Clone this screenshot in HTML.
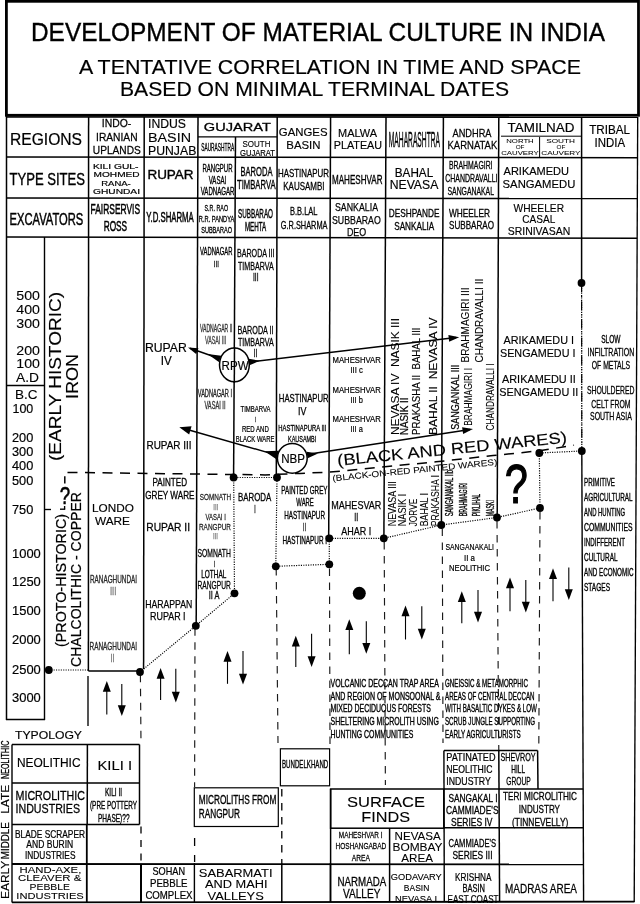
<!DOCTYPE html>
<html><head><meta charset="utf-8"><title>Development of Material Culture in India</title>
<style>
html,body{margin:0;padding:0;background:#fff;}
body{width:640px;height:904px;overflow:hidden;}
svg{display:block;font-family:"Liberation Sans",sans-serif;will-change:transform;opacity:0.9999;}
svg text{white-space:pre;}
</style></head><body>
<svg width="640" height="904" viewBox="0 0 640 904" xml:space="preserve">
<rect x="0" y="0" width="640" height="904" fill="#fff"/>
<rect x="6.4" y="1.3" width="632.1" height="114.0" fill="#fff" stroke="#000" stroke-width="2.8"/>
<text x="31.00" y="41.13" font-size="25.5" textLength="574.00" lengthAdjust="spacingAndGlyphs" fill="#000" stroke="#000" stroke-width="0.36">DEVELOPMENT OF MATERIAL CULTURE IN INDIA</text>
<text x="79.00" y="73.98" font-size="19.5" textLength="502.00" lengthAdjust="spacingAndGlyphs" fill="#000" stroke="#000" stroke-width="0.16">A TENTATIVE CORRELATION IN TIME AND SPACE</text>
<text x="120.00" y="96.28" font-size="19.5" textLength="389.00" lengthAdjust="spacingAndGlyphs" fill="#000" stroke="#000" stroke-width="0.16">BASED ON MINIMAL TERMINAL DATES</text>
<line x1="6" y1="116.9" x2="638" y2="117.3" stroke="#000" stroke-width="1.5" stroke-linecap="butt"/>
<line x1="6" y1="157" x2="637.5" y2="157.7" stroke="#000" stroke-width="1.5" stroke-linecap="butt"/>
<line x1="6" y1="198" x2="637.3" y2="198.6" stroke="#000" stroke-width="1.5" stroke-linecap="butt"/>
<line x1="6" y1="237" x2="637.2" y2="238.3" stroke="#000" stroke-width="1.5" stroke-linecap="butt"/>
<line x1="6.5" y1="116" x2="6.5" y2="720" stroke="#000" stroke-width="1.5" stroke-linecap="butt"/>
<line x1="88.6" y1="117" x2="88.4" y2="671" stroke="#000" stroke-width="1.5" stroke-linecap="butt"/>
<line x1="144.2" y1="117" x2="143.6" y2="669" stroke="#000" stroke-width="1.5" stroke-linecap="butt"/>
<line x1="198" y1="117" x2="196.2" y2="624" stroke="#000" stroke-width="1.5" stroke-linecap="butt"/>
<line x1="235.5" y1="137" x2="233.6" y2="476" stroke="#000" stroke-width="1.5" stroke-linecap="butt"/>
<line x1="277.2" y1="117" x2="276.3" y2="476" stroke="#000" stroke-width="1.5" stroke-linecap="butt"/>
<line x1="330.6" y1="117" x2="328.7" y2="537" stroke="#000" stroke-width="1.5" stroke-linecap="butt"/>
<line x1="386" y1="117" x2="383.9" y2="537" stroke="#000" stroke-width="1.5" stroke-linecap="butt"/>
<line x1="443.4" y1="117" x2="441.4" y2="524" stroke="#000" stroke-width="1.5" stroke-linecap="butt"/>
<line x1="498.8" y1="117" x2="497.2" y2="516" stroke="#000" stroke-width="1.5" stroke-linecap="butt"/>
<line x1="539.6" y1="137" x2="539.6" y2="157" stroke="#000" stroke-width="1.0" stroke-linecap="butt"/>
<line x1="581.6" y1="117" x2="581.6" y2="283" stroke="#000" stroke-width="1.5" stroke-linecap="butt"/>
<line x1="637.7" y1="117" x2="634.2" y2="902" stroke="#000" stroke-width="1.35" stroke-linecap="butt"/>
<line x1="198" y1="136.8" x2="277" y2="136.8" stroke="#000" stroke-width="1.35" stroke-linecap="butt"/>
<line x1="501" y1="136.2" x2="581" y2="136.2" stroke="#000" stroke-width="1.0" stroke-linecap="butt"/>
<text x="10.00" y="144.53" font-size="16" textLength="72.00" lengthAdjust="spacingAndGlyphs" fill="#000" stroke="#000" stroke-width="0.22">REGIONS</text>
<text x="9.50" y="185.12" font-size="15.7" textLength="75.50" lengthAdjust="spacingAndGlyphs" fill="#000" stroke="#000" stroke-width="0.35">TYPE SITES</text>
<text x="9.50" y="224.53" font-size="16" textLength="73.80" lengthAdjust="spacingAndGlyphs" fill="#000" stroke="#000" stroke-width="0.45">EXCAVATORS</text>
<text x="101.75" y="127.22" font-size="11.8" textLength="29.50" lengthAdjust="spacingAndGlyphs" fill="#000" stroke="#000" stroke-width="0.26">INDO-</text>
<text x="96.05" y="141.02" font-size="11.8" textLength="41.50" lengthAdjust="spacingAndGlyphs" fill="#000" stroke="#000" stroke-width="0.26">IRANIAN</text>
<text x="92.80" y="154.22" font-size="11.8" textLength="48.00" lengthAdjust="spacingAndGlyphs" fill="#000" stroke="#000" stroke-width="0.26">UPLANDS</text>
<text x="92.95" y="169.03" font-size="7.9" textLength="45.50" lengthAdjust="spacingAndGlyphs" fill="#000" stroke="#000" stroke-width="0.19">KILI GUL-</text>
<text x="93.60" y="177.43" font-size="7.9" textLength="46.00" lengthAdjust="spacingAndGlyphs" fill="#000" stroke="#000" stroke-width="0.19">MOHMED</text>
<text x="101.25" y="185.83" font-size="7.9" textLength="29.50" lengthAdjust="spacingAndGlyphs" fill="#000" stroke="#000" stroke-width="0.19">RANA-</text>
<text x="93.00" y="194.43" font-size="7.9" textLength="47.00" lengthAdjust="spacingAndGlyphs" fill="#000" stroke="#000" stroke-width="0.19">GHUNDAI</text>
<text x="90.55" y="214.35" font-size="15.5" textLength="49.50" lengthAdjust="spacingAndGlyphs" fill="#000" stroke="#000" stroke-width="0.53">FAIRSERVIS</text>
<text x="103.65" y="230.55" font-size="15.5" textLength="23.50" lengthAdjust="spacingAndGlyphs" fill="#000" stroke="#000" stroke-width="0.53">ROSS</text>
<text x="148.00" y="128.20" font-size="12.3" textLength="38.00" lengthAdjust="spacingAndGlyphs" fill="#000" stroke="#000" stroke-width="0.17">INDUS</text>
<text x="148.00" y="141.90" font-size="12.3" textLength="43.00" lengthAdjust="spacingAndGlyphs" fill="#000" stroke="#000" stroke-width="0.10">BASIN</text>
<text x="148.00" y="154.90" font-size="12.3" textLength="48.30" lengthAdjust="spacingAndGlyphs" fill="#000" stroke="#000" stroke-width="0.17">PUNJAB</text>
<text x="147.40" y="179.15" font-size="13" textLength="46.20" lengthAdjust="spacingAndGlyphs" fill="#000" stroke="#000" stroke-width="0.36">RUPAR</text>
<text x="146.30" y="221.81" font-size="14" textLength="47.50" lengthAdjust="spacingAndGlyphs" fill="#000" stroke="#000" stroke-width="0.48">Y.D.SHARMA</text>
<text x="203.80" y="131.15" font-size="11.6" textLength="67.00" lengthAdjust="spacingAndGlyphs" fill="#000" stroke="#000" stroke-width="0.28">GUJARAT</text>
<text x="201.20" y="151.44" font-size="11" textLength="33.00" lengthAdjust="spacingAndGlyphs" fill="#000" stroke="#000" stroke-width="0.37">SAURASHTRA</text>
<text x="242.50" y="146.88" font-size="8.6" textLength="28.00" lengthAdjust="spacingAndGlyphs" fill="#000" stroke="#000" stroke-width="0.12">SOUTH</text>
<text x="240.00" y="155.68" font-size="8.6" textLength="35.00" lengthAdjust="spacingAndGlyphs" fill="#000" stroke="#000" stroke-width="0.19">GUJARAT</text>
<text x="202.50" y="171.76" font-size="10.5" textLength="30.00" lengthAdjust="spacingAndGlyphs" fill="#000" stroke="#000" stroke-width="0.36">RANGPUR</text>
<text x="208.75" y="183.76" font-size="10.5" textLength="17.50" lengthAdjust="spacingAndGlyphs" fill="#000" stroke="#000" stroke-width="0.36">VASAI</text>
<text x="200.70" y="195.06" font-size="10.5" textLength="33.80" lengthAdjust="spacingAndGlyphs" fill="#000" stroke="#000" stroke-width="0.36">VADNAGAR</text>
<text x="240.50" y="175.60" font-size="12" textLength="32.00" lengthAdjust="spacingAndGlyphs" fill="#000" stroke="#000" stroke-width="0.34">BARODA</text>
<text x="237.05" y="188.80" font-size="12" textLength="38.50" lengthAdjust="spacingAndGlyphs" fill="#000" stroke="#000" stroke-width="0.34">TIMBARVA</text>
<text x="204.55" y="211.01" font-size="9.8" textLength="23.50" lengthAdjust="spacingAndGlyphs" fill="#000" stroke="#000" stroke-width="0.33">S.R. RAO</text>
<text x="198.85" y="221.51" font-size="9.8" textLength="35.50" lengthAdjust="spacingAndGlyphs" fill="#000" stroke="#000" stroke-width="0.33">R.R. PANDYA</text>
<text x="201.20" y="232.81" font-size="9.8" textLength="30.80" lengthAdjust="spacingAndGlyphs" fill="#000" stroke="#000" stroke-width="0.33">SUBBARAO</text>
<text x="238.00" y="217.65" font-size="13" textLength="35.00" lengthAdjust="spacingAndGlyphs" fill="#000" stroke="#000" stroke-width="0.44">SUBBARAO</text>
<text x="244.95" y="231.45" font-size="13" textLength="21.30" lengthAdjust="spacingAndGlyphs" fill="#000" stroke="#000" stroke-width="0.44">MEHTA</text>
<text x="278.80" y="136.15" font-size="11.6" textLength="48.70" lengthAdjust="spacingAndGlyphs" fill="#000" stroke="#000" stroke-width="0.16">GANGES</text>
<text x="286.30" y="148.65" font-size="11.6" textLength="34.20" lengthAdjust="spacingAndGlyphs" fill="#000" stroke="#000" stroke-width="0.16">BASIN</text>
<text x="278.00" y="177.15" font-size="11.6" textLength="51.00" lengthAdjust="spacingAndGlyphs" fill="#000" stroke="#000" stroke-width="0.32">HASTINAPUR</text>
<text x="283.30" y="189.95" font-size="11.6" textLength="41.20" lengthAdjust="spacingAndGlyphs" fill="#000" stroke="#000" stroke-width="0.32">KAUSAMBI</text>
<text x="290.00" y="215.38" font-size="11.4" textLength="27.50" lengthAdjust="spacingAndGlyphs" fill="#000" stroke="#000" stroke-width="0.32">B.B.LAL</text>
<text x="280.80" y="228.58" font-size="11.4" textLength="46.70" lengthAdjust="spacingAndGlyphs" fill="#000" stroke="#000" stroke-width="0.32">G.R.SHARMA</text>
<text x="338.00" y="136.58" font-size="11.4" textLength="39.00" lengthAdjust="spacingAndGlyphs" fill="#000" stroke="#000" stroke-width="0.16">MALWA</text>
<text x="333.75" y="149.08" font-size="11.4" textLength="48.30" lengthAdjust="spacingAndGlyphs" fill="#000" stroke="#000" stroke-width="0.16">PLATEAU</text>
<text x="388.80" y="146.86" font-size="22.5" textLength="51.20" lengthAdjust="spacingAndGlyphs" fill="#000" stroke="#000" stroke-width="0.42">MAHARASHTRA</text>
<text x="332.00" y="184.30" font-size="12" textLength="50.50" lengthAdjust="spacingAndGlyphs" fill="#000" stroke="#000" stroke-width="0.34">MAHESHVAR</text>
<text x="335.00" y="210.92" font-size="11.5" textLength="43.00" lengthAdjust="spacingAndGlyphs" fill="#000" stroke="#000" stroke-width="0.25">SANKALIA</text>
<text x="332.00" y="223.62" font-size="11.5" textLength="48.80" lengthAdjust="spacingAndGlyphs" fill="#000" stroke="#000" stroke-width="0.25">SUBBARAO</text>
<text x="346.95" y="236.12" font-size="11.5" textLength="19.30" lengthAdjust="spacingAndGlyphs" fill="#000" stroke="#000" stroke-width="0.25">DEO</text>
<text x="394.80" y="176.80" font-size="12" textLength="38.40" lengthAdjust="spacingAndGlyphs" fill="#000" stroke="#000" stroke-width="0.17">BAHAL</text>
<text x="389.70" y="189.30" font-size="12" textLength="48.60" lengthAdjust="spacingAndGlyphs" fill="#000" stroke="#000" stroke-width="0.17">NEVASA</text>
<text x="388.70" y="217.42" font-size="11.5" textLength="50.80" lengthAdjust="spacingAndGlyphs" fill="#000" stroke="#000" stroke-width="0.32">DESHPANDE</text>
<text x="394.20" y="229.92" font-size="11.5" textLength="40.00" lengthAdjust="spacingAndGlyphs" fill="#000" stroke="#000" stroke-width="0.32">SANKALIA</text>
<text x="452.50" y="136.65" font-size="11.6" textLength="39.00" lengthAdjust="spacingAndGlyphs" fill="#000" stroke="#000" stroke-width="0.26">ANDHRA</text>
<text x="447.50" y="149.15" font-size="11.6" textLength="49.80" lengthAdjust="spacingAndGlyphs" fill="#000" stroke="#000" stroke-width="0.26">KARNATAK</text>
<text x="449.00" y="168.79" font-size="10.6" textLength="43.50" lengthAdjust="spacingAndGlyphs" fill="#000" stroke="#000" stroke-width="0.30">BRAHMAGIRI</text>
<text x="445.30" y="181.59" font-size="10.6" textLength="52.20" lengthAdjust="spacingAndGlyphs" fill="#000" stroke="#000" stroke-width="0.30">CHANDRAVALLI</text>
<text x="447.50" y="194.79" font-size="10.6" textLength="46.50" lengthAdjust="spacingAndGlyphs" fill="#000" stroke="#000" stroke-width="0.30">SANGANAKAL</text>
<text x="449.00" y="216.58" font-size="11.4" textLength="41.00" lengthAdjust="spacingAndGlyphs" fill="#000" stroke="#000" stroke-width="0.32">WHEELER</text>
<text x="449.00" y="229.08" font-size="11.4" textLength="45.00" lengthAdjust="spacingAndGlyphs" fill="#000" stroke="#000" stroke-width="0.32">SUBBARAO</text>
<text x="507.50" y="131.58" font-size="12.8" textLength="67.00" lengthAdjust="spacingAndGlyphs" fill="#000" stroke="#000" stroke-width="0.18">TAMILNAD</text>
<text x="506.25" y="143.20" font-size="5.6" textLength="27.50" lengthAdjust="spacingAndGlyphs" fill="#000" stroke="#000" stroke-width="0.04">NORTH</text>
<text x="515.70" y="149.10" font-size="5.6" textLength="8.80" lengthAdjust="spacingAndGlyphs" fill="#000" stroke="#000" stroke-width="0.04">OF</text>
<text x="501.25" y="155.00" font-size="5.6" textLength="37.50" lengthAdjust="spacingAndGlyphs" fill="#000" stroke="#000" stroke-width="0.04">CAUVERY</text>
<text x="546.20" y="143.20" font-size="5.6" textLength="28.80" lengthAdjust="spacingAndGlyphs" fill="#000" stroke="#000" stroke-width="0.04">SOUTH</text>
<text x="556.60" y="149.10" font-size="5.6" textLength="8.80" lengthAdjust="spacingAndGlyphs" fill="#000" stroke="#000" stroke-width="0.04">OF</text>
<text x="541.25" y="155.00" font-size="5.6" textLength="39.30" lengthAdjust="spacingAndGlyphs" fill="#000" stroke="#000" stroke-width="0.04">CAUVERY</text>
<text x="589.20" y="133.97" font-size="12.2" textLength="40.80" lengthAdjust="spacingAndGlyphs" fill="#000" stroke="#000" stroke-width="0.17">TRIBAL</text>
<text x="594.55" y="146.57" font-size="12.2" textLength="30.50" lengthAdjust="spacingAndGlyphs" fill="#000" stroke="#000" stroke-width="0.17">INDIA</text>
<text x="503.60" y="175.02" font-size="11.8" textLength="65.40" lengthAdjust="spacingAndGlyphs" fill="#000" stroke="#000" stroke-width="0.17">ARIKAMEDU</text>
<text x="502.60" y="187.52" font-size="11.8" textLength="72.70" lengthAdjust="spacingAndGlyphs" fill="#000" stroke="#000" stroke-width="0.17">SANGAMEDU</text>
<text x="513.55" y="211.87" font-size="10.8" textLength="50.50" lengthAdjust="spacingAndGlyphs" fill="#000" stroke="#000" stroke-width="0.15">WHEELER</text>
<text x="522.30" y="223.47" font-size="10.8" textLength="33.00" lengthAdjust="spacingAndGlyphs" fill="#000" stroke="#000" stroke-width="0.15">CASAL</text>
<text x="507.75" y="234.87" font-size="10.8" textLength="62.50" lengthAdjust="spacingAndGlyphs" fill="#000" stroke="#000" stroke-width="0.15">SRINIVASAN</text>
<line x1="44.5" y1="237" x2="44.5" y2="720" stroke="#000" stroke-width="1.4" stroke-linecap="butt"/>
<line x1="6" y1="719.6" x2="45" y2="719.6" stroke="#000" stroke-width="1.5" stroke-linecap="butt"/>
<line x1="6" y1="385.5" x2="44.5" y2="385.5" stroke="#000" stroke-width="1.35" stroke-linecap="butt"/>
<line x1="45" y1="509.5" x2="51" y2="509.5" stroke="#000" stroke-width="1.35" stroke-linecap="butt"/>
<text x="16.30" y="300.37" font-size="12.2" textLength="23.70" lengthAdjust="spacingAndGlyphs" fill="#000" stroke="#000" stroke-width="0.10">500</text>
<text x="16.30" y="314.37" font-size="12.2" textLength="23.70" lengthAdjust="spacingAndGlyphs" fill="#000" stroke="#000" stroke-width="0.10">400</text>
<text x="16.30" y="328.17" font-size="12.2" textLength="23.70" lengthAdjust="spacingAndGlyphs" fill="#000" stroke="#000" stroke-width="0.10">300</text>
<text x="16.30" y="355.17" font-size="12.2" textLength="23.70" lengthAdjust="spacingAndGlyphs" fill="#000" stroke="#000" stroke-width="0.10">200</text>
<text x="16.30" y="368.37" font-size="12.2" textLength="23.70" lengthAdjust="spacingAndGlyphs" fill="#000" stroke="#000" stroke-width="0.10">100</text>
<text x="16.00" y="381.97" font-size="12.2" textLength="23.00" lengthAdjust="spacingAndGlyphs" fill="#000" stroke="#000" stroke-width="0.10">A.D</text>
<text x="15.00" y="399.37" font-size="12.2" textLength="22.50" lengthAdjust="spacingAndGlyphs" fill="#000" stroke="#000" stroke-width="0.10">B.C</text>
<text x="12.50" y="413.37" font-size="12.2" textLength="20.80" lengthAdjust="spacingAndGlyphs" fill="#000" stroke="#000" stroke-width="0.17">100</text>
<text x="12.00" y="441.87" font-size="12.2" textLength="21.30" lengthAdjust="spacingAndGlyphs" fill="#000" stroke="#000" stroke-width="0.17">200</text>
<text x="12.00" y="456.37" font-size="12.2" textLength="21.30" lengthAdjust="spacingAndGlyphs" fill="#000" stroke="#000" stroke-width="0.17">300</text>
<text x="12.00" y="470.37" font-size="12.2" textLength="21.30" lengthAdjust="spacingAndGlyphs" fill="#000" stroke="#000" stroke-width="0.17">400</text>
<text x="12.00" y="485.37" font-size="12.2" textLength="21.30" lengthAdjust="spacingAndGlyphs" fill="#000" stroke="#000" stroke-width="0.17">500</text>
<text x="12.00" y="513.87" font-size="12.2" textLength="21.30" lengthAdjust="spacingAndGlyphs" fill="#000" stroke="#000" stroke-width="0.17">750</text>
<text x="12.00" y="558.17" font-size="12.2" textLength="28.80" lengthAdjust="spacingAndGlyphs" fill="#000" stroke="#000" stroke-width="0.17">1000</text>
<text x="12.00" y="586.37" font-size="12.2" textLength="28.80" lengthAdjust="spacingAndGlyphs" fill="#000" stroke="#000" stroke-width="0.17">1250</text>
<text x="12.00" y="615.37" font-size="12.2" textLength="28.80" lengthAdjust="spacingAndGlyphs" fill="#000" stroke="#000" stroke-width="0.17">1500</text>
<text x="12.00" y="644.37" font-size="12.2" textLength="28.80" lengthAdjust="spacingAndGlyphs" fill="#000" stroke="#000" stroke-width="0.17">2000</text>
<text x="12.00" y="673.67" font-size="12.2" textLength="28.80" lengthAdjust="spacingAndGlyphs" fill="#000" stroke="#000" stroke-width="0.17">2500</text>
<text x="12.00" y="701.87" font-size="12.2" textLength="28.80" lengthAdjust="spacingAndGlyphs" fill="#000" stroke="#000" stroke-width="0.17">3000</text>
<text transform="translate(61.17,461.00) rotate(-90)" x="0" y="0" font-size="16.4" textLength="169.00" lengthAdjust="spacingAndGlyphs" fill="#000" stroke="#000" stroke-width="0.13">(EARLY HISTORIC)</text>
<text transform="translate(78.34,399.00) rotate(-90)" x="0" y="0" font-size="16.6" textLength="45.00" lengthAdjust="spacingAndGlyphs" fill="#000" stroke="#000" stroke-width="0.13">IRON</text>
<text transform="translate(65.61,647.00) rotate(-90)" x="0" y="0" font-size="14" textLength="133.00" lengthAdjust="spacingAndGlyphs" fill="#000" stroke="#000" stroke-width="0.20">(PROTO-HISTORIC)</text>
<text transform="translate(81.31,667.00) rotate(-90)" x="0" y="0" font-size="14" textLength="175.00" lengthAdjust="spacingAndGlyphs" fill="#000" stroke="#000" stroke-width="0.20">CHALCOLITHIC - COPPER</text>
<line x1="64.8" y1="476.2" x2="64.8" y2="483.6" stroke="#000" stroke-width="1.5" stroke-linecap="butt"/>
<text x="59.70" y="504.38" font-size="23.4" textLength="10.40" lengthAdjust="spacingAndGlyphs" fill="#000" stroke="#000" stroke-width="0.51">?</text>
<line x1="64.6" y1="506" x2="64.6" y2="509.3" stroke="#000" stroke-width="1.35" stroke-linecap="butt"/>
<line x1="60" y1="509.2" x2="65.2" y2="509.2" stroke="#000" stroke-width="1.35" stroke-linecap="butt"/>
<path d="M67.5,472.4 L265,474.9 L300,473.4 L330,472.1 L436,461.8 L493,455.6 L541,450.6 L574,445.2" fill="none" stroke="#000" stroke-width="1.5" stroke-dasharray="10 7.5"/>
<line x1="88.4" y1="671" x2="140" y2="671" stroke="#000" stroke-width="1.4" stroke-linecap="butt"/>
<text x="92.00" y="511.94" font-size="11" textLength="41.80" lengthAdjust="spacingAndGlyphs" fill="#000" stroke="#000" stroke-width="0.15">LONDO</text>
<text x="95.00" y="524.74" font-size="11" textLength="35.00" lengthAdjust="spacingAndGlyphs" fill="#000" stroke="#000" stroke-width="0.15">WARE</text>
<text x="90.00" y="583.44" font-size="11" textLength="47.00" lengthAdjust="spacingAndGlyphs" fill="#2a2a2a" stroke="#2a2a2a" stroke-width="0.37">RANAGHUNDAI</text>
<text x="109.95" y="595.06" font-size="10.5" textLength="6.50" lengthAdjust="spacingAndGlyphs" fill="#777" stroke="#777" stroke-width="0.29">III</text>
<text x="89.50" y="650.24" font-size="11" textLength="47.50" lengthAdjust="spacingAndGlyphs" fill="#2a2a2a" stroke="#2a2a2a" stroke-width="0.37">RANAGHUNDAI</text>
<text x="110.40" y="662.06" font-size="10.5" textLength="4.20" lengthAdjust="spacingAndGlyphs" fill="#777" stroke="#777" stroke-width="0.29">II</text>
<text x="145.00" y="351.81" font-size="12.6" textLength="41.80" lengthAdjust="spacingAndGlyphs" fill="#000" stroke="#000" stroke-width="0.18">RUPAR</text>
<text x="160.70" y="364.51" font-size="12.6" textLength="11.00" lengthAdjust="spacingAndGlyphs" fill="#000" stroke="#000" stroke-width="0.18">IV</text>
<text x="146.50" y="449.08" font-size="11.4" textLength="45.00" lengthAdjust="spacingAndGlyphs" fill="#000" stroke="#000" stroke-width="0.25">RUPAR III</text>
<text x="152.55" y="486.08" font-size="11.4" textLength="34.50" lengthAdjust="spacingAndGlyphs" fill="#000" stroke="#000" stroke-width="0.32">PAINTED</text>
<text x="145.20" y="498.58" font-size="11.4" textLength="49.30" lengthAdjust="spacingAndGlyphs" fill="#000" stroke="#000" stroke-width="0.32">GREY WARE</text>
<text x="146.30" y="531.15" font-size="11.6" textLength="43.70" lengthAdjust="spacingAndGlyphs" fill="#000" stroke="#000" stroke-width="0.26">RUPAR II</text>
<text x="145.20" y="608.48" font-size="11.4" textLength="47.10" lengthAdjust="spacingAndGlyphs" fill="#000" stroke="#000" stroke-width="0.25">HARAPPAN</text>
<text x="150.00" y="620.28" font-size="11.4" textLength="35.60" lengthAdjust="spacingAndGlyphs" fill="#000" stroke="#000" stroke-width="0.25">RUPAR I</text>
<text x="200.00" y="254.96" font-size="10.5" textLength="32.50" lengthAdjust="spacingAndGlyphs" fill="#000" stroke="#000" stroke-width="0.36">VADNAGAR</text>
<text x="213.80" y="267.00" font-size="9.5" textLength="5.00" lengthAdjust="spacingAndGlyphs" fill="#000" stroke="#000" stroke-width="0.27">III</text>
<text x="200.00" y="331.88" font-size="10" textLength="32.50" lengthAdjust="spacingAndGlyphs" fill="#333" stroke="#333" stroke-width="0.34">VADNAGAR II</text>
<text x="205.00" y="344.38" font-size="10" textLength="21.30" lengthAdjust="spacingAndGlyphs" fill="#444" stroke="#444" stroke-width="0.34">VASAI III</text>
<text x="197.80" y="396.58" font-size="10" textLength="34.20" lengthAdjust="spacingAndGlyphs" fill="#222" stroke="#222" stroke-width="0.34">VADNAGAR I</text>
<text x="204.50" y="408.58" font-size="10" textLength="21.00" lengthAdjust="spacingAndGlyphs" fill="#333" stroke="#333" stroke-width="0.34">VASAI II</text>
<text x="199.80" y="500.37" font-size="9.4" textLength="31.20" lengthAdjust="spacingAndGlyphs" fill="#222" stroke="#222" stroke-width="0.26">SOMNATH</text>
<text x="213.30" y="509.82" font-size="9" textLength="5.00" lengthAdjust="spacingAndGlyphs" fill="#777" stroke="#777" stroke-width="0.25">III</text>
<text x="205.50" y="519.67" font-size="9.4" textLength="20.30" lengthAdjust="spacingAndGlyphs" fill="#222" stroke="#222" stroke-width="0.26">VASAI I</text>
<text x="199.00" y="529.57" font-size="9.4" textLength="32.00" lengthAdjust="spacingAndGlyphs" fill="#222" stroke="#222" stroke-width="0.26">RANGPUR</text>
<text x="213.00" y="538.82" font-size="9" textLength="5.00" lengthAdjust="spacingAndGlyphs" fill="#777" stroke="#777" stroke-width="0.25">III</text>
<text x="197.50" y="557.06" font-size="10.5" textLength="33.30" lengthAdjust="spacingAndGlyphs" fill="#000" stroke="#000" stroke-width="0.29">SOMNATH</text>
<text x="213.85" y="567.20" font-size="9.5" textLength="1.30" lengthAdjust="spacingAndGlyphs" fill="#000" stroke="#000" stroke-width="0.32">I</text>
<text x="201.30" y="578.26" font-size="10.5" textLength="25.00" lengthAdjust="spacingAndGlyphs" fill="#000" stroke="#000" stroke-width="0.36">LOTHAL</text>
<text x="197.50" y="589.26" font-size="10.5" textLength="33.30" lengthAdjust="spacingAndGlyphs" fill="#000" stroke="#000" stroke-width="0.29">RANGPUR</text>
<text x="208.80" y="599.38" font-size="10" textLength="10.70" lengthAdjust="spacingAndGlyphs" fill="#000" stroke="#000" stroke-width="0.28">II A</text>
<text x="237.00" y="256.87" font-size="10.8" textLength="37.50" lengthAdjust="spacingAndGlyphs" fill="#000" stroke="#000" stroke-width="0.30">BARODA III</text>
<text x="238.00" y="269.67" font-size="10.8" textLength="35.80" lengthAdjust="spacingAndGlyphs" fill="#000" stroke="#000" stroke-width="0.30">TIMBARVA</text>
<text x="253.00" y="281.08" font-size="10" textLength="5.60" lengthAdjust="spacingAndGlyphs" fill="#000" stroke="#000" stroke-width="0.28">III</text>
<text x="237.50" y="333.87" font-size="10.8" textLength="36.00" lengthAdjust="spacingAndGlyphs" fill="#000" stroke="#000" stroke-width="0.30">BARODA II</text>
<text x="238.00" y="345.87" font-size="10.8" textLength="35.80" lengthAdjust="spacingAndGlyphs" fill="#000" stroke="#000" stroke-width="0.30">TIMBARVA</text>
<text x="253.70" y="357.38" font-size="10" textLength="3.60" lengthAdjust="spacingAndGlyphs" fill="#000" stroke="#000" stroke-width="0.28">II</text>
<text x="240.50" y="411.77" font-size="8.3" textLength="30.00" lengthAdjust="spacingAndGlyphs" fill="#000" stroke="#000" stroke-width="0.23">TIMBARVA</text>
<text x="254.70" y="421.66" font-size="8" textLength="1.20" lengthAdjust="spacingAndGlyphs" fill="#000" stroke="#000" stroke-width="0.27">I</text>
<text x="242.00" y="432.27" font-size="8.3" textLength="26.80" lengthAdjust="spacingAndGlyphs" fill="#000" stroke="#000" stroke-width="0.23">RED AND</text>
<text x="235.80" y="442.47" font-size="8.3" textLength="38.70" lengthAdjust="spacingAndGlyphs" fill="#000" stroke="#000" stroke-width="0.23">BLACK WARE</text>
<text x="238.00" y="501.12" font-size="11.5" textLength="33.30" lengthAdjust="spacingAndGlyphs" fill="#000" stroke="#000" stroke-width="0.32">BARODA</text>
<text x="254.30" y="512.56" font-size="10.5" textLength="1.40" lengthAdjust="spacingAndGlyphs" fill="#000" stroke="#000" stroke-width="0.36">I</text>
<text x="278.80" y="402.12" font-size="11.5" textLength="49.80" lengthAdjust="spacingAndGlyphs" fill="#000" stroke="#000" stroke-width="0.32">HASTINAPUR</text>
<text x="298.00" y="414.51" font-size="11.2" textLength="8.40" lengthAdjust="spacingAndGlyphs" fill="#000" stroke="#000" stroke-width="0.25">IV</text>
<text x="278.30" y="431.01" font-size="9.8" textLength="48.00" lengthAdjust="spacingAndGlyphs" fill="#000" stroke="#000" stroke-width="0.33">HASTINAPURA III</text>
<text x="288.00" y="442.31" font-size="9.8" textLength="28.30" lengthAdjust="spacingAndGlyphs" fill="#000" stroke="#000" stroke-width="0.33">KAUSAMBI</text>
<text x="281.30" y="493.94" font-size="11" textLength="46.20" lengthAdjust="spacingAndGlyphs" fill="#000" stroke="#000" stroke-width="0.37">PAINTED GREY</text>
<text x="296.30" y="506.44" font-size="11" textLength="17.50" lengthAdjust="spacingAndGlyphs" fill="#000" stroke="#000" stroke-width="0.37">WARE</text>
<text x="284.30" y="518.94" font-size="11" textLength="40.70" lengthAdjust="spacingAndGlyphs" fill="#000" stroke="#000" stroke-width="0.37">HASTINAPUR</text>
<text x="302.70" y="530.98" font-size="10" textLength="3.60" lengthAdjust="spacingAndGlyphs" fill="#333" stroke="#333" stroke-width="0.28">II</text>
<text x="282.50" y="543.79" font-size="10.6" textLength="44.50" lengthAdjust="spacingAndGlyphs" fill="#000" stroke="#000" stroke-width="0.36">HASTINAPUR I</text>
<text x="332.50" y="363.48" font-size="8.6" textLength="48.30" lengthAdjust="spacingAndGlyphs" fill="#000" stroke="#000" stroke-width="0.19">MAHESHVAR</text>
<text x="350.40" y="373.08" font-size="8.6" textLength="12.40" lengthAdjust="spacingAndGlyphs" fill="#000" stroke="#000" stroke-width="0.19">III c</text>
<text x="332.50" y="393.48" font-size="8.6" textLength="48.30" lengthAdjust="spacingAndGlyphs" fill="#000" stroke="#000" stroke-width="0.19">MAHESHVAR</text>
<text x="350.40" y="403.08" font-size="8.6" textLength="12.40" lengthAdjust="spacingAndGlyphs" fill="#000" stroke="#000" stroke-width="0.19">III b</text>
<text x="332.50" y="422.28" font-size="8.6" textLength="48.30" lengthAdjust="spacingAndGlyphs" fill="#000" stroke="#000" stroke-width="0.19">MAHESHVAR</text>
<text x="350.40" y="431.88" font-size="8.6" textLength="12.40" lengthAdjust="spacingAndGlyphs" fill="#000" stroke="#000" stroke-width="0.19">III a</text>
<text x="331.30" y="508.51" font-size="11.2" textLength="50.00" lengthAdjust="spacingAndGlyphs" fill="#000" stroke="#000" stroke-width="0.25">MAHESVAR</text>
<text x="354.30" y="521.26" font-size="10.5" textLength="4.00" lengthAdjust="spacingAndGlyphs" fill="#000" stroke="#000" stroke-width="0.29">II</text>
<text x="341.30" y="534.51" font-size="11.2" textLength="30.00" lengthAdjust="spacingAndGlyphs" fill="#000" stroke="#000" stroke-width="0.25">AHAR I</text>
<text transform="translate(398.94,435.00) rotate(-90)" x="0" y="0" font-size="11" textLength="117.00" lengthAdjust="spacingAndGlyphs" fill="#000" stroke="#000" stroke-width="0.09">NEVASA IV  NASIK III</text>
<text transform="translate(408.14,435.00) rotate(-90)" x="0" y="0" font-size="11" textLength="37.50" lengthAdjust="spacingAndGlyphs" fill="#000" stroke="#000" stroke-width="0.24">NASIK II</text>
<text transform="translate(419.72,435.00) rotate(-90)" x="0" y="0" font-size="10.4" textLength="107.50" lengthAdjust="spacingAndGlyphs" fill="#000" stroke="#000" stroke-width="0.15">PRAKASHA II  BAHAL III</text>
<text transform="translate(436.81,435.00) rotate(-90)" x="0" y="0" font-size="11.2" textLength="117.50" lengthAdjust="spacingAndGlyphs" fill="#000" stroke="#000" stroke-width="0.16">BAHAL II  NEVASA IV</text>
<text transform="translate(395.72,526.30) rotate(-90)" x="0" y="0" font-size="10.4" textLength="45.00" lengthAdjust="spacingAndGlyphs" fill="#000" stroke="#000" stroke-width="0.09">NEVASA III</text>
<text transform="translate(406.32,526.30) rotate(-90)" x="0" y="0" font-size="10.4" textLength="32.50" lengthAdjust="spacingAndGlyphs" fill="#000" stroke="#000" stroke-width="0.09">NASIK I</text>
<text transform="translate(417.32,526.30) rotate(-90)" x="0" y="0" font-size="10.4" textLength="27.50" lengthAdjust="spacingAndGlyphs" fill="#000" stroke="#000" stroke-width="0.09">JORVE</text>
<text transform="translate(428.12,526.30) rotate(-90)" x="0" y="0" font-size="10.4" textLength="33.30" lengthAdjust="spacingAndGlyphs" fill="#000" stroke="#000" stroke-width="0.09">BAHAL I</text>
<text transform="translate(438.72,526.30) rotate(-90)" x="0" y="0" font-size="10.4" textLength="51.30" lengthAdjust="spacingAndGlyphs" fill="#000" stroke="#000" stroke-width="0.09">PRAKASHA I</text>
<text transform="translate(458.72,429.80) rotate(-90)" x="0" y="0" font-size="10.4" textLength="65.00" lengthAdjust="spacingAndGlyphs" fill="#000" stroke="#000" stroke-width="0.23">SANGANKAL III</text>
<text transform="translate(471.65,425.80) rotate(-90)" x="0" y="0" font-size="10.2" textLength="58.00" lengthAdjust="spacingAndGlyphs" fill="#000" stroke="#000" stroke-width="0.11">BRAHMAGIRI I</text>
<text transform="translate(469.07,362.50) rotate(-90)" x="0" y="0" font-size="10.8" textLength="75.00" lengthAdjust="spacingAndGlyphs" fill="#000" stroke="#000" stroke-width="0.08">BRAHMAGIRI III</text>
<text transform="translate(482.67,362.50) rotate(-90)" x="0" y="0" font-size="10.8" textLength="83.70" lengthAdjust="spacingAndGlyphs" fill="#000" stroke="#000" stroke-width="0.08">CHANDRAVALLI II</text>
<text transform="translate(493.79,430.40) rotate(-90)" x="0" y="0" font-size="10.6" textLength="67.00" lengthAdjust="spacingAndGlyphs" fill="#000" stroke="#000" stroke-width="0.12">CHANDRAVALLI I</text>
<text transform="translate(452.52,516.30) rotate(-90)" x="0" y="0" font-size="10.4" textLength="46.30" lengthAdjust="spacingAndGlyphs" fill="#000" stroke="#000" stroke-width="0.35">SANGANAKAL IIb</text>
<text transform="translate(467.25,516.30) rotate(-90)" x="0" y="0" font-size="10.2" textLength="33.80" lengthAdjust="spacingAndGlyphs" fill="#000" stroke="#000" stroke-width="0.35">BRAHMAGIRI</text>
<text transform="translate(480.45,516.30) rotate(-90)" x="0" y="0" font-size="10.2" textLength="22.50" lengthAdjust="spacingAndGlyphs" fill="#000" stroke="#000" stroke-width="0.35">PIKLIHAL</text>
<text transform="translate(493.65,516.30) rotate(-90)" x="0" y="0" font-size="10.2" textLength="16.30" lengthAdjust="spacingAndGlyphs" fill="#000" stroke="#000" stroke-width="0.35">MASKI</text>
<text x="445.40" y="550.19" font-size="8.9" textLength="48.60" lengthAdjust="spacingAndGlyphs" fill="#000" stroke="#000" stroke-width="0.20">SANGANAKALI</text>
<text x="464.00" y="561.19" font-size="8.9" textLength="11.00" lengthAdjust="spacingAndGlyphs" fill="#000" stroke="#000" stroke-width="0.20">II a</text>
<text x="449.00" y="570.79" font-size="8.9" textLength="41.00" lengthAdjust="spacingAndGlyphs" fill="#000" stroke="#000" stroke-width="0.20">NEOLITHIC</text>
<text x="503.50" y="344.44" font-size="11" textLength="70.50" lengthAdjust="spacingAndGlyphs" fill="#000" stroke="#000" stroke-width="0.15">ARIKAMEDU I</text>
<text x="500.00" y="356.94" font-size="11" textLength="75.40" lengthAdjust="spacingAndGlyphs" fill="#000" stroke="#000" stroke-width="0.15">SENGAMEDU I</text>
<text x="502.00" y="383.44" font-size="11" textLength="73.80" lengthAdjust="spacingAndGlyphs" fill="#000" stroke="#000" stroke-width="0.15">ARIKAMEDU II</text>
<text x="499.30" y="395.74" font-size="11" textLength="79.00" lengthAdjust="spacingAndGlyphs" fill="#000" stroke="#000" stroke-width="0.15">SENGAMEDU II</text>
<text x="504.80" y="502.89" font-size="55" textLength="23.00" lengthAdjust="spacingAndGlyphs" fill="#000" stroke="#000" stroke-width="1.21">?</text>
<text x="601.25" y="342.87" font-size="10.8" textLength="19.30" lengthAdjust="spacingAndGlyphs" fill="#000" stroke="#000" stroke-width="0.37">SLOW</text>
<text x="587.50" y="356.37" font-size="10.8" textLength="46.80" lengthAdjust="spacingAndGlyphs" fill="#000" stroke="#000" stroke-width="0.30">INFILTRATION</text>
<text x="591.80" y="368.87" font-size="10.8" textLength="38.20" lengthAdjust="spacingAndGlyphs" fill="#000" stroke="#000" stroke-width="0.30">OF METALS</text>
<text x="587.00" y="394.37" font-size="10.8" textLength="47.50" lengthAdjust="spacingAndGlyphs" fill="#000" stroke="#000" stroke-width="0.30">SHOULDERED</text>
<text x="591.30" y="407.67" font-size="10.8" textLength="39.20" lengthAdjust="spacingAndGlyphs" fill="#000" stroke="#000" stroke-width="0.30">CELT FROM</text>
<text x="590.00" y="419.87" font-size="10.8" textLength="41.80" lengthAdjust="spacingAndGlyphs" fill="#000" stroke="#000" stroke-width="0.30">SOUTH ASIA</text>
<text x="584.00" y="485.65" font-size="11.6" textLength="31.00" lengthAdjust="spacingAndGlyphs" fill="#000" stroke="#000" stroke-width="0.39">PRIMITIVE</text>
<text x="584.00" y="500.70" font-size="11.6" textLength="48.50" lengthAdjust="spacingAndGlyphs" fill="#000" stroke="#000" stroke-width="0.39">AGRICULTURAL</text>
<text x="584.00" y="515.75" font-size="11.6" textLength="41.00" lengthAdjust="spacingAndGlyphs" fill="#000" stroke="#000" stroke-width="0.39">AND HUNTING</text>
<text x="584.00" y="530.80" font-size="11.6" textLength="48.50" lengthAdjust="spacingAndGlyphs" fill="#000" stroke="#000" stroke-width="0.39">COMMUNITIES</text>
<text x="584.00" y="545.85" font-size="11.6" textLength="41.00" lengthAdjust="spacingAndGlyphs" fill="#000" stroke="#000" stroke-width="0.39">INDIFFERENT</text>
<text x="584.00" y="560.90" font-size="11.6" textLength="33.50" lengthAdjust="spacingAndGlyphs" fill="#000" stroke="#000" stroke-width="0.39">CULTURAL</text>
<text x="584.00" y="575.95" font-size="11.6" textLength="49.50" lengthAdjust="spacingAndGlyphs" fill="#000" stroke="#000" stroke-width="0.39">AND ECONOMIC</text>
<text x="584.00" y="591.00" font-size="11.6" textLength="26.00" lengthAdjust="spacingAndGlyphs" fill="#000" stroke="#000" stroke-width="0.39">STAGES</text>
<g transform="translate(337.3,460.2) rotate(-5.8)">
<text x="0.00" y="5.66" font-size="15.8" textLength="230.60" lengthAdjust="spacingAndGlyphs" fill="#000" stroke="#000" stroke-width="0.13">(BLACK AND RED WARES)</text>
</g>
<g transform="translate(332.5,478.2) rotate(-5.7)">
<text x="0.00" y="3.08" font-size="8.6" textLength="165.50" lengthAdjust="spacingAndGlyphs" fill="#000" stroke="#000" stroke-width="0.07">(BLACK-ON-RED PAINTED WARES)</text>
</g>
<line x1="220" y1="358.8" x2="190" y2="348.2" stroke="#000" stroke-width="1.5" stroke-linecap="butt"/>
<path d="M188.00,347.50 L198.48,348.16 L196.15,354.12 Z" fill="#000"/>
<path d="M207.50,354.00 L221.28,355.84 L218.87,361.99 Z" fill="#000"/>
<line x1="248.8" y1="362" x2="456" y2="337.6" stroke="#000" stroke-width="1.5" stroke-linecap="butt"/>
<path d="M459.20,337.20 L449.16,341.79 L448.38,335.03 Z" fill="#000"/>
<path d="M260.00,360.70 L249.44,365.15 L248.70,358.79 Z" fill="#000"/>
<ellipse cx="234.4" cy="364.8" rx="14.9" ry="16.9" fill="#fff" stroke="#000" stroke-width="1.5"/>
<line x1="234.5" y1="347" x2="234.3" y2="383" stroke="#000" stroke-width="1.5" stroke-linecap="butt"/>
<text x="221.60" y="369.67" font-size="12.2" textLength="27.00" lengthAdjust="spacingAndGlyphs" fill="#000" stroke="#000" stroke-width="0.17">RPW</text>
<line x1="277.5" y1="455.3" x2="182" y2="428" stroke="#000" stroke-width="1.4" stroke-linecap="butt"/>
<path d="M179.30,427.30 L191.54,426.32 L189.18,434.59 Z" fill="#000"/>
<path d="M264.60,451.30 L278.76,450.87 L276.40,459.14 Z" fill="#000"/>
<line x1="306.5" y1="454.4" x2="470" y2="429.4" stroke="#000" stroke-width="1.5" stroke-linecap="butt"/>
<path d="M473.00,429.00 L463.15,433.98 L462.10,427.27 Z" fill="#000"/>
<path d="M318.00,453.40 L307.64,458.36 L306.62,451.84 Z" fill="#000"/>
<circle cx="292.3" cy="458.3" r="14.9" fill="#fff" stroke="#000" stroke-width="1.5"/>
<text x="281.20" y="462.87" font-size="12.2" textLength="23.80" lengthAdjust="spacingAndGlyphs" fill="#000" stroke="#000" stroke-width="0.17">NBP</text>
<path d="M48.8,670 L88,670" fill="none" stroke="#000" stroke-width="1.2" stroke-dasharray="1.1 1.3"/>
<path d="M140,672 L195.8,625.8 L234.5,593.3 L233.7,477.5 L277,477.5 L275.8,566.3 L329.3,564.3 L329.3,538.3 L383.8,538.3 L441.3,525 L497,517.5 L540,508 L539.3,453 L581.8,451" fill="none" stroke="#000" stroke-width="1.2" stroke-dasharray="1.1 1.3"/>
<line x1="581.6" y1="283" x2="581.8" y2="451" stroke="#000" stroke-width="1.2" stroke-dasharray="9 4 1.2 4" stroke-linecap="butt"/>
<path d="M581.6,283 L581.8,451" fill="none" stroke="#000" stroke-width="1.2" stroke-dasharray="1.1 1.3"/>
<line x1="581.8" y1="451" x2="583.6" y2="902" stroke="#000" stroke-width="1.4" stroke-linecap="butt"/>
<line x1="88" y1="676" x2="88" y2="726" stroke="#000" stroke-width="1.35" stroke-linecap="butt"/>
<line x1="140.4" y1="674.8" x2="141" y2="744" stroke="#1a1a1a" stroke-width="1.15" stroke-dasharray="7.5 6.5" stroke-linecap="butt"/>
<line x1="141" y1="826.5" x2="141" y2="861" stroke="#000" stroke-width="1.3" stroke-dasharray="7 6.5" stroke-linecap="butt"/>
<line x1="195" y1="628.2" x2="194.6" y2="787" stroke="#1a1a1a" stroke-width="1.15" stroke-dasharray="7.5 6.5" stroke-linecap="butt"/>
<line x1="194.6" y1="838" x2="194.6" y2="862" stroke="#000" stroke-width="1.3" stroke-dasharray="8 9" stroke-linecap="butt"/>
<line x1="276.2" y1="567.9" x2="278" y2="743" stroke="#1a1a1a" stroke-width="1.15" stroke-dasharray="7.5 6.5" stroke-linecap="butt"/>
<line x1="281.8" y1="789" x2="281.8" y2="863" stroke="#000" stroke-width="1.3" stroke-dasharray="7.5 6.5" stroke-linecap="butt"/>
<line x1="329.5" y1="568.5" x2="330" y2="745" stroke="#1a1a1a" stroke-width="1.15" stroke-dasharray="7.5 6.5" stroke-linecap="butt"/>
<line x1="384.2" y1="542" x2="385.4" y2="785" stroke="#1a1a1a" stroke-width="1.15" stroke-dasharray="7.5 6.5" stroke-linecap="butt"/>
<line x1="442.3" y1="528.6" x2="443" y2="743" stroke="#1a1a1a" stroke-width="1.15" stroke-dasharray="7.5 6.5" stroke-linecap="butt"/>
<line x1="497" y1="521" x2="498.8" y2="750" stroke="#1a1a1a" stroke-width="1.15" stroke-dasharray="7.5 6.5" stroke-linecap="butt"/>
<line x1="540" y1="512" x2="538.8" y2="748" stroke="#1a1a1a" stroke-width="1.15" stroke-dasharray="7.5 6.5" stroke-linecap="butt"/>
<circle cx="48.8" cy="670" r="3.9" fill="#000"/>
<circle cx="140" cy="672" r="3.9" fill="#000"/>
<circle cx="195.8" cy="625.8" r="3.9" fill="#000"/>
<circle cx="234.5" cy="593.3" r="3.9" fill="#000"/>
<circle cx="233.6" cy="477.5" r="3.9" fill="#000"/>
<circle cx="277" cy="477.5" r="3.9" fill="#000"/>
<circle cx="275.8" cy="566.3" r="3.9" fill="#000"/>
<circle cx="329.3" cy="564.3" r="3.9" fill="#000"/>
<circle cx="329.3" cy="538.3" r="3.9" fill="#000"/>
<circle cx="383.8" cy="538.3" r="3.9" fill="#000"/>
<circle cx="441.3" cy="525" r="3.9" fill="#000"/>
<circle cx="497" cy="517.5" r="3.9" fill="#000"/>
<circle cx="540" cy="508" r="3.9" fill="#000"/>
<circle cx="539.3" cy="453" r="3.9" fill="#000"/>
<circle cx="581.8" cy="451" r="3.9" fill="#000"/>
<circle cx="581.5" cy="283" r="3.9" fill="#000"/>
<circle cx="359.3" cy="593.3" r="6.5" fill="#000"/>
<line x1="106.8" y1="687" x2="106.8" y2="714.5" stroke="#000" stroke-width="1.1" stroke-linecap="butt"/>
<path d="M106.8,681 L102.8,691.8 L110.8,691.8 Z" fill="#000"/>
<line x1="121.8" y1="684" x2="121.8" y2="710" stroke="#000" stroke-width="1.1" stroke-linecap="butt"/>
<path d="M121.8,716 L117.8,705.2 L125.8,705.2 Z" fill="#000"/>
<line x1="160.6" y1="674" x2="160.6" y2="700" stroke="#000" stroke-width="1.1" stroke-linecap="butt"/>
<path d="M160.6,668 L156.6,678.8 L164.6,678.8 Z" fill="#000"/>
<line x1="175.8" y1="668.8" x2="175.8" y2="696.5" stroke="#000" stroke-width="1.1" stroke-linecap="butt"/>
<path d="M175.8,702.5 L171.8,691.7 L179.8,691.7 Z" fill="#000"/>
<line x1="227.5" y1="657" x2="227.5" y2="683.8" stroke="#000" stroke-width="1.1" stroke-linecap="butt"/>
<path d="M227.5,651 L223.5,661.8 L231.5,661.8 Z" fill="#000"/>
<line x1="243" y1="651" x2="243" y2="678.5" stroke="#000" stroke-width="1.1" stroke-linecap="butt"/>
<path d="M243,684.5 L239,673.7 L247,673.7 Z" fill="#000"/>
<line x1="295.8" y1="641.8" x2="295.8" y2="667" stroke="#000" stroke-width="1.1" stroke-linecap="butt"/>
<path d="M295.8,635.8 L291.8,646.5999999999999 L299.8,646.5999999999999 Z" fill="#000"/>
<line x1="311.6" y1="633.8" x2="311.6" y2="661" stroke="#000" stroke-width="1.1" stroke-linecap="butt"/>
<path d="M311.6,667 L307.6,656.2 L315.6,656.2 Z" fill="#000"/>
<line x1="349.3" y1="625.3" x2="349.3" y2="654.3" stroke="#000" stroke-width="1.1" stroke-linecap="butt"/>
<path d="M349.3,619.3 L345.3,630.0999999999999 L353.3,630.0999999999999 Z" fill="#000"/>
<line x1="366.3" y1="621.3" x2="366.3" y2="647.8" stroke="#000" stroke-width="1.1" stroke-linecap="butt"/>
<path d="M366.3,653.8 L362.3,643.0 L370.3,643.0 Z" fill="#000"/>
<line x1="405.5" y1="611.5" x2="405.5" y2="639.5" stroke="#000" stroke-width="1.1" stroke-linecap="butt"/>
<path d="M405.5,605.5 L401.5,616.3 L409.5,616.3 Z" fill="#000"/>
<line x1="421.8" y1="606.3" x2="421.8" y2="633.5" stroke="#000" stroke-width="1.1" stroke-linecap="butt"/>
<path d="M421.8,639.5 L417.8,628.7 L425.8,628.7 Z" fill="#000"/>
<line x1="461.8" y1="597.3" x2="461.8" y2="623.3" stroke="#000" stroke-width="1.1" stroke-linecap="butt"/>
<path d="M461.8,591.3 L457.8,602.0999999999999 L465.8,602.0999999999999 Z" fill="#000"/>
<line x1="478" y1="590" x2="478" y2="616.5" stroke="#000" stroke-width="1.1" stroke-linecap="butt"/>
<path d="M478,622.5 L474,611.7 L482,611.7 Z" fill="#000"/>
<line x1="510" y1="583.5" x2="510" y2="611.3" stroke="#000" stroke-width="1.1" stroke-linecap="butt"/>
<path d="M510,577.5 L506,588.3 L514,588.3 Z" fill="#000"/>
<line x1="525.8" y1="580" x2="525.8" y2="606.5" stroke="#000" stroke-width="1.1" stroke-linecap="butt"/>
<path d="M525.8,612.5 L521.8,601.7 L529.8,601.7 Z" fill="#000"/>
<line x1="553" y1="574.3" x2="553" y2="601.3" stroke="#000" stroke-width="1.1" stroke-linecap="butt"/>
<path d="M553,568.3 L549,579.0999999999999 L557,579.0999999999999 Z" fill="#000"/>
<line x1="568.8" y1="567.5" x2="568.8" y2="594" stroke="#000" stroke-width="1.1" stroke-linecap="butt"/>
<path d="M568.8,600 L564.8,589.2 L572.8,589.2 Z" fill="#000"/>
<text x="330.60" y="687.08" font-size="11.4" textLength="108.20" lengthAdjust="spacingAndGlyphs" fill="#000" stroke="#000" stroke-width="0.39">VOLCANIC DECCAN TRAP AREA</text>
<text x="330.60" y="699.78" font-size="11.4" textLength="109.90" lengthAdjust="spacingAndGlyphs" fill="#000" stroke="#000" stroke-width="0.39">AND REGION OF MONSOONAL &amp;</text>
<text x="330.60" y="712.48" font-size="11.4" textLength="100.20" lengthAdjust="spacingAndGlyphs" fill="#000" stroke="#000" stroke-width="0.39">MIXED DECIDUOUS FORESTS</text>
<text x="330.60" y="725.18" font-size="11.4" textLength="108.20" lengthAdjust="spacingAndGlyphs" fill="#000" stroke="#000" stroke-width="0.39">SHELTERING MICROLITH USING</text>
<text x="330.60" y="737.88" font-size="11.4" textLength="82.70" lengthAdjust="spacingAndGlyphs" fill="#000" stroke="#000" stroke-width="0.39">HUNTING COMMUNITIES</text>
<text x="445.00" y="687.08" font-size="11.4" textLength="83.00" lengthAdjust="spacingAndGlyphs" fill="#000" stroke="#000" stroke-width="0.39">GNEISSIC &amp; METAMORPHIC</text>
<text x="445.00" y="699.78" font-size="11.4" textLength="89.50" lengthAdjust="spacingAndGlyphs" fill="#000" stroke="#000" stroke-width="0.39">AREAS OF CENTRAL DECCAN</text>
<text x="445.00" y="712.48" font-size="11.4" textLength="92.00" lengthAdjust="spacingAndGlyphs" fill="#000" stroke="#000" stroke-width="0.39">WITH BASALTIC DYKES &amp; LOW</text>
<text x="445.00" y="725.18" font-size="11.4" textLength="90.00" lengthAdjust="spacingAndGlyphs" fill="#000" stroke="#000" stroke-width="0.39">SCRUB JUNGLE SUPPORTING</text>
<text x="445.00" y="737.88" font-size="11.4" textLength="75.80" lengthAdjust="spacingAndGlyphs" fill="#000" stroke="#000" stroke-width="0.39">EARLY AGRICULTURISTS</text>
<text x="15.00" y="738.65" font-size="11.6" textLength="67.00" lengthAdjust="spacingAndGlyphs" fill="#000" stroke="#000" stroke-width="0.16">TYPOLOGY</text>
<line x1="12" y1="744.5" x2="139.5" y2="744.5" stroke="#000" stroke-width="1.5" stroke-linecap="butt"/>
<line x1="12" y1="783" x2="139.5" y2="783" stroke="#000" stroke-width="1.5" stroke-linecap="butt"/>
<line x1="12" y1="824.5" x2="139.5" y2="824.5" stroke="#000" stroke-width="1.5" stroke-linecap="butt"/>
<line x1="12" y1="744.5" x2="12" y2="902.6" stroke="#000" stroke-width="1.4" stroke-linecap="butt"/>
<line x1="87.4" y1="744.5" x2="87.2" y2="824.5" stroke="#000" stroke-width="1.5" stroke-linecap="butt"/>
<line x1="139.5" y1="744.5" x2="139.5" y2="824.5" stroke="#000" stroke-width="1.5" stroke-linecap="butt"/>
<line x1="86.8" y1="824.5" x2="86.8" y2="902.6" stroke="#000" stroke-width="1.8" stroke-linecap="butt"/>
<line x1="12" y1="864" x2="583.4" y2="864.4" stroke="#000" stroke-width="1.8" stroke-linecap="butt"/>
<line x1="12" y1="902.4" x2="634.5" y2="901.6" stroke="#000" stroke-width="1.8" stroke-linecap="butt"/>
<line x1="141" y1="864" x2="141" y2="902" stroke="#000" stroke-width="2.0" stroke-linecap="butt"/>
<line x1="194.4" y1="863" x2="194.4" y2="902" stroke="#000" stroke-width="1.4" stroke-linecap="butt"/>
<line x1="281.8" y1="863" x2="281.8" y2="902" stroke="#000" stroke-width="1.5" stroke-linecap="butt"/>
<line x1="330.4" y1="863" x2="330.4" y2="902" stroke="#000" stroke-width="1.5" stroke-linecap="butt"/>
<text x="17.00" y="767.10" font-size="12" textLength="63.50" lengthAdjust="spacingAndGlyphs" fill="#000" stroke="#000" stroke-width="0.17">NEOLITHIC</text>
<text x="97.50" y="769.60" font-size="12" textLength="34.50" lengthAdjust="spacingAndGlyphs" fill="#000" stroke="#000" stroke-width="0.10">KILI I</text>
<text x="15.50" y="800.30" font-size="12" textLength="69.50" lengthAdjust="spacingAndGlyphs" fill="#000" stroke="#000" stroke-width="0.26">MICROLITHIC</text>
<text x="15.50" y="812.80" font-size="12" textLength="64.50" lengthAdjust="spacingAndGlyphs" fill="#000" stroke="#000" stroke-width="0.26">INDUSTRIES</text>
<text x="105.00" y="795.65" font-size="11.6" textLength="17.00" lengthAdjust="spacingAndGlyphs" fill="#000" stroke="#000" stroke-width="0.39">KILI II</text>
<text x="90.00" y="808.95" font-size="11.6" textLength="47.00" lengthAdjust="spacingAndGlyphs" fill="#000" stroke="#000" stroke-width="0.39">(PRE POTTERY</text>
<text x="98.00" y="821.95" font-size="11.6" textLength="31.50" lengthAdjust="spacingAndGlyphs" fill="#000" stroke="#000" stroke-width="0.39">PHASE)??</text>
<text x="15.00" y="837.72" font-size="10.4" textLength="70.00" lengthAdjust="spacingAndGlyphs" fill="#000" stroke="#000" stroke-width="0.23">BLADE SCRAPER</text>
<text x="26.30" y="848.22" font-size="10.4" textLength="47.00" lengthAdjust="spacingAndGlyphs" fill="#000" stroke="#000" stroke-width="0.23">AND BURIN</text>
<text x="25.00" y="858.52" font-size="10.4" textLength="50.50" lengthAdjust="spacingAndGlyphs" fill="#000" stroke="#000" stroke-width="0.23">INDUSTRIES</text>
<text x="19.50" y="872.81" font-size="8.4" textLength="61.80" lengthAdjust="spacingAndGlyphs" fill="#000" stroke="#000" stroke-width="0.07">HAND-AXE,</text>
<text x="18.00" y="881.31" font-size="8.4" textLength="63.30" lengthAdjust="spacingAndGlyphs" fill="#000" stroke="#000" stroke-width="0.07">CLEAVER &amp;</text>
<text x="29.50" y="890.01" font-size="8.4" textLength="40.50" lengthAdjust="spacingAndGlyphs" fill="#000" stroke="#000" stroke-width="0.07">PEBBLE</text>
<text x="16.30" y="898.81" font-size="8.4" textLength="67.50" lengthAdjust="spacingAndGlyphs" fill="#000" stroke="#000" stroke-width="0.07">INDUSTRIES</text>
<text transform="translate(8.98,899.00) rotate(-90)" x="0" y="0" font-size="11.4" textLength="38.20" lengthAdjust="spacingAndGlyphs" fill="#000" stroke="#000" stroke-width="0.16">EARLY</text>
<text transform="translate(8.98,859.20) rotate(-90)" x="0" y="0" font-size="11.4" textLength="36.90" lengthAdjust="spacingAndGlyphs" fill="#000" stroke="#000" stroke-width="0.25">MIDDLE</text>
<text transform="translate(8.98,813.80) rotate(-90)" x="0" y="0" font-size="11.4" textLength="29.00" lengthAdjust="spacingAndGlyphs" fill="#000" stroke="#000" stroke-width="0.16">LATE</text>
<text transform="translate(8.87,779.00) rotate(-90)" x="0" y="0" font-size="10.8" textLength="38.40" lengthAdjust="spacingAndGlyphs" fill="#000" stroke="#000" stroke-width="0.30">NEOLITHIC</text>
<text x="152.50" y="875.44" font-size="11" textLength="32.50" lengthAdjust="spacingAndGlyphs" fill="#000" stroke="#000" stroke-width="0.24">SOHAN</text>
<text x="150.00" y="886.94" font-size="11" textLength="37.50" lengthAdjust="spacingAndGlyphs" fill="#000" stroke="#000" stroke-width="0.24">PEBBLE</text>
<text x="145.40" y="899.44" font-size="11" textLength="47.10" lengthAdjust="spacingAndGlyphs" fill="#000" stroke="#000" stroke-width="0.24">COMPLEX</text>
<text x="198.80" y="877.08" font-size="10" textLength="73.70" lengthAdjust="spacingAndGlyphs" fill="#000" stroke="#000" stroke-width="0.08">SABARMATI</text>
<text x="205.00" y="888.38" font-size="10" textLength="62.50" lengthAdjust="spacingAndGlyphs" fill="#000" stroke="#000" stroke-width="0.08">AND MAHI</text>
<text x="207.50" y="899.58" font-size="10" textLength="56.30" lengthAdjust="spacingAndGlyphs" fill="#000" stroke="#000" stroke-width="0.08">VALLEYS</text>
<rect x="194.3" y="787.8" width="84.0" height="38.700000000000045" fill="none" stroke="#000" stroke-width="1.2"/>
<text x="198.80" y="803.80" font-size="12" textLength="77.50" lengthAdjust="spacingAndGlyphs" fill="#000" stroke="#000" stroke-width="0.34">MICROLITHS FROM</text>
<text x="198.80" y="817.80" font-size="12" textLength="41.20" lengthAdjust="spacingAndGlyphs" fill="#000" stroke="#000" stroke-width="0.34">RANGPUR</text>
<rect x="280.4" y="748.8" width="49.200000000000045" height="37.0" fill="none" stroke="#000" stroke-width="1.2"/>
<text x="282.00" y="767.52" font-size="11.5" textLength="46.30" lengthAdjust="spacingAndGlyphs" fill="#000" stroke="#000" stroke-width="0.39">BUNDELKHAND</text>
<rect x="330.6" y="789" width="113.19999999999999" height="39.200000000000045" fill="none" stroke="#000" stroke-width="1.5"/>
<line x1="330.6" y1="789" x2="330.6" y2="902" stroke="#000" stroke-width="1.5" stroke-linecap="butt"/>
<line x1="443.9" y1="750.5" x2="444.3" y2="902" stroke="#000" stroke-width="1.4" stroke-linecap="butt"/>
<line x1="389.6" y1="828.2" x2="389.6" y2="902" stroke="#000" stroke-width="1.5" stroke-linecap="butt"/>
<text x="347.00" y="806.51" font-size="14" textLength="78.00" lengthAdjust="spacingAndGlyphs" fill="#000" stroke="#000" stroke-width="0.11">SURFACE</text>
<text x="361.30" y="821.51" font-size="14" textLength="48.70" lengthAdjust="spacingAndGlyphs" fill="#000" stroke="#000" stroke-width="0.11">FINDS</text>
<text x="338.80" y="837.87" font-size="9.4" textLength="43.70" lengthAdjust="spacingAndGlyphs" fill="#000" stroke="#000" stroke-width="0.26">MAHESHVAR I</text>
<text x="335.50" y="849.37" font-size="9.4" textLength="50.80" lengthAdjust="spacingAndGlyphs" fill="#000" stroke="#000" stroke-width="0.26">HOSHANGABAD</text>
<text x="351.80" y="860.67" font-size="9.4" textLength="18.20" lengthAdjust="spacingAndGlyphs" fill="#000" stroke="#000" stroke-width="0.26">AREA</text>
<text x="394.50" y="839.72" font-size="10.4" textLength="46.30" lengthAdjust="spacingAndGlyphs" fill="#000" stroke="#000" stroke-width="0.08">NEVASA</text>
<text x="392.50" y="851.02" font-size="10.4" textLength="50.00" lengthAdjust="spacingAndGlyphs" fill="#000" stroke="#000" stroke-width="0.08">BOMBAY</text>
<text x="401.30" y="862.22" font-size="10.4" textLength="31.70" lengthAdjust="spacingAndGlyphs" fill="#000" stroke="#000" stroke-width="0.08">AREA</text>
<text x="337.50" y="885.80" font-size="12" textLength="48.80" lengthAdjust="spacingAndGlyphs" fill="#000" stroke="#000" stroke-width="0.26">NARMADA</text>
<text x="343.00" y="898.30" font-size="12" textLength="37.50" lengthAdjust="spacingAndGlyphs" fill="#000" stroke="#000" stroke-width="0.26">VALLEY</text>
<text x="390.80" y="880.37" font-size="9.4" textLength="51.00" lengthAdjust="spacingAndGlyphs" fill="#000" stroke="#000" stroke-width="0.13">GODAVARY</text>
<text x="403.80" y="891.17" font-size="9.4" textLength="25.50" lengthAdjust="spacingAndGlyphs" fill="#000" stroke="#000" stroke-width="0.13">BASIN</text>
<text x="395.00" y="901.67" font-size="9.4" textLength="42.00" lengthAdjust="spacingAndGlyphs" fill="#000" stroke="#000" stroke-width="0.13">NEVASA I</text>
<line x1="444" y1="750.5" x2="537.6" y2="750.5" stroke="#000" stroke-width="1.5" stroke-linecap="butt"/>
<line x1="498.8" y1="750.5" x2="499.6" y2="902" stroke="#000" stroke-width="1.5" stroke-linecap="butt"/>
<line x1="537.6" y1="750.5" x2="538" y2="789" stroke="#000" stroke-width="1.5" stroke-linecap="butt"/>
<line x1="444" y1="789" x2="583" y2="789" stroke="#000" stroke-width="1.5" stroke-linecap="butt"/>
<line x1="444" y1="827.8" x2="583.2" y2="827.8" stroke="#000" stroke-width="1.4" stroke-linecap="butt"/>
<text x="446.30" y="760.76" font-size="10.5" textLength="49.20" lengthAdjust="spacingAndGlyphs" fill="#000" stroke="#000" stroke-width="0.23">PATINATED</text>
<text x="446.30" y="773.06" font-size="10.5" textLength="46.20" lengthAdjust="spacingAndGlyphs" fill="#000" stroke="#000" stroke-width="0.23">NEOLITHIC</text>
<text x="446.30" y="784.56" font-size="10.5" textLength="44.50" lengthAdjust="spacingAndGlyphs" fill="#000" stroke="#000" stroke-width="0.23">INDUSTRY</text>
<text x="500.50" y="760.76" font-size="10.5" textLength="35.00" lengthAdjust="spacingAndGlyphs" fill="#000" stroke="#000" stroke-width="0.29">SHEVROY</text>
<text x="511.30" y="773.06" font-size="10.5" textLength="13.70" lengthAdjust="spacingAndGlyphs" fill="#000" stroke="#000" stroke-width="0.36">HILL</text>
<text x="506.30" y="784.56" font-size="10.5" textLength="24.50" lengthAdjust="spacingAndGlyphs" fill="#000" stroke="#000" stroke-width="0.29">GROUP</text>
<text x="448.50" y="802.08" font-size="11.4" textLength="49.00" lengthAdjust="spacingAndGlyphs" fill="#000" stroke="#000" stroke-width="0.32">SANGAKAL I</text>
<text x="446.00" y="814.08" font-size="11.4" textLength="52.50" lengthAdjust="spacingAndGlyphs" fill="#000" stroke="#000" stroke-width="0.32">CAMMIADE'S</text>
<text x="451.00" y="826.08" font-size="11.4" textLength="41.50" lengthAdjust="spacingAndGlyphs" fill="#000" stroke="#000" stroke-width="0.32">SERIES IV</text>
<text x="448.50" y="846.58" font-size="11.4" textLength="47.50" lengthAdjust="spacingAndGlyphs" fill="#000" stroke="#000" stroke-width="0.32">CAMMIADE'S</text>
<text x="452.50" y="859.08" font-size="11.4" textLength="40.00" lengthAdjust="spacingAndGlyphs" fill="#000" stroke="#000" stroke-width="0.32">SERIES III</text>
<text x="455.00" y="881.29" font-size="10.6" textLength="36.50" lengthAdjust="spacingAndGlyphs" fill="#000" stroke="#000" stroke-width="0.23">KRISHNA</text>
<text x="462.50" y="891.59" font-size="10.6" textLength="22.50" lengthAdjust="spacingAndGlyphs" fill="#000" stroke="#000" stroke-width="0.30">BASIN</text>
<text x="447.50" y="902.79" font-size="10.6" textLength="51.00" lengthAdjust="spacingAndGlyphs" fill="#000" stroke="#000" stroke-width="0.23">EAST COAST</text>
<text x="503.00" y="800.12" font-size="11.5" textLength="74.00" lengthAdjust="spacingAndGlyphs" fill="#000" stroke="#000" stroke-width="0.32">TERI MICROLITHIC</text>
<text x="518.80" y="812.62" font-size="11.5" textLength="41.20" lengthAdjust="spacingAndGlyphs" fill="#000" stroke="#000" stroke-width="0.32">INDUSTRY</text>
<text x="512.00" y="825.62" font-size="11.5" textLength="56.30" lengthAdjust="spacingAndGlyphs" fill="#000" stroke="#000" stroke-width="0.32">(TINNEVELLY)</text>
<text x="505.00" y="892.60" font-size="12" textLength="72.00" lengthAdjust="spacingAndGlyphs" fill="#000" stroke="#000" stroke-width="0.26">MADRAS AREA</text>
</svg>
</body></html>
